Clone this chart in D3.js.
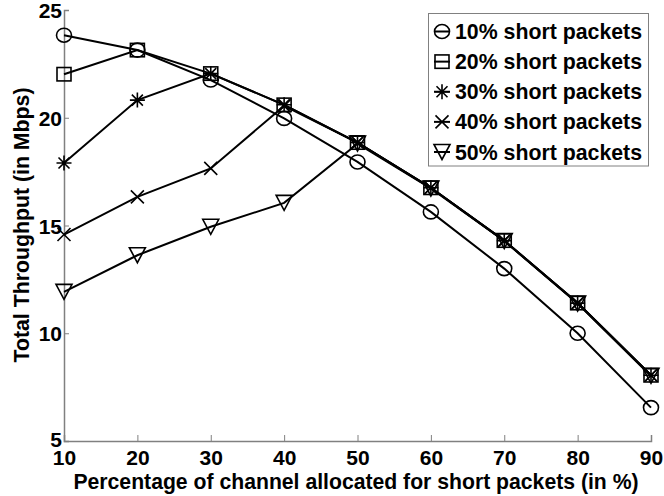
<!DOCTYPE html>
<html>
<head>
<meta charset="utf-8">
<script src="https://cdn.jsdelivr.net/npm/d3@7"></script>
<style>
  html, body { margin: 0; padding: 0; background: #fff; }
  svg { display: block; }
  text { font-family: "Liberation Sans", Arial, Helvetica, sans-serif; font-weight: bold; fill: #000; }
</style>
</head>
<body>
<svg id="chart" width="664" height="496"></svg>
<script>
const xValues = [10, 20, 30, 40, 50, 60, 70, 80, 90];
const xTicks = [10, 20, 30, 40, 50, 60, 70, 80, 90];
const yTicks = [5, 10, 15, 20, 25];

const seriesNames = ["10% short packets", "20% short packets", "30% short packets", "40% short packets", "50% short packets"];
const markerTypes = ["circle", "square", "asterisk", "cross", "triangleDown"];

const s10 = [23.83, 23.14, 21.75, 19.97, 17.95, 15.63, 13.0, 10.0, 6.55];
const s20 = [22.02, 23.14, 22.05, 20.6, 18.85, 16.75, 14.3, 11.4, 8.05];
const s30 = [17.9, 20.82, 22.05, 20.6, 18.85, 16.75, 14.3, 11.4, 8.05];
const s40 = [14.58, 16.33, 17.65, 20.55, 18.85, 16.75, 14.3, 11.4, 8.05];
const s50 = [11.92, 13.62, 14.94, 16.05, 18.8, 16.72, 14.28, 11.38, 8.02];
const seriesValues = [s10, s20, s30, s40, s50];

const svg = d3.select("#chart");
const plotL = 64, plotR = 651, plotT = 10, plotB = 441;

const x = d3.scaleLinear().domain([10, 90]).range([plotL, plotR]);
const y = d3.scaleLinear().domain([5, 25]).range([plotB, plotT]);

const axisColor = "#808080";
const tickFont = "21px";

// Axes
const xAxis = d3.axisBottom(x).tickValues(xTicks).tickSize(-6).tickPadding(9).tickFormat(d3.format("d"));
const yAxis = d3.axisLeft(y).tickValues(yTicks).tickSize(-5).tickPadding(2).tickFormat(d3.format("d"));

const gx = svg.append("g").attr("transform", `translate(0,${plotB})`).call(xAxis);
gx.select(".domain").attr("stroke", axisColor).attr("stroke-width", 1.5);
gx.selectAll(".tick line").attr("stroke", axisColor);
gx.selectAll(".tick text").style("font-size", tickFont).style("font-family", "Liberation Sans, Arial, sans-serif").style("font-weight", "bold").attr("fill", "#000");

const gy = svg.append("g").attr("transform", `translate(${plotL},0)`).call(yAxis);
gy.select(".domain").attr("stroke", axisColor).attr("stroke-width", 1.5);
gy.selectAll(".tick line").attr("stroke", axisColor);
gy.selectAll(".tick text").style("font-size", tickFont).style("font-family", "Liberation Sans, Arial, sans-serif").style("font-weight", "bold").attr("fill", "#000")
  .attr("dy", d => d === 5 ? "0.26em" : "0.36em");

// Axis titles
svg.append("text")
  .attr("x", 356)
  .attr("y", 489)
  .attr("text-anchor", "middle")
  .style("font-size", "21.2px")
  .text("Percentage of channel allocated for short packets (in %)");

svg.append("text")
  .attr("transform", `translate(29,${225}) rotate(-90)`)
  .attr("text-anchor", "middle")
  .attr("textLength", 275)
  .attr("lengthAdjust", "spacingAndGlyphs")
  .style("font-size", "22px")
  .text("Total Throughput (in Mbps)");

// Marker drawing
function drawMarker(g, type, cx, cy) {
  const st = { stroke: "#000", "stroke-width": 1.6, fill: "none" };
  const apply = sel => { for (const k in st) sel.attr(k, st[k]); return sel; };
  if (type === "circle") {
    apply(g.append("ellipse").attr("cx", cx).attr("cy", cy).attr("rx", 7.5).attr("ry", 7));
  } else if (type === "square") {
    apply(g.append("rect").attr("x", cx - 7).attr("y", cy - 6.7).attr("width", 14).attr("height", 13.4));
  } else if (type === "asterisk") {
    const r = 7.5, d = 5.5;
    apply(g.append("path").attr("d",
      `M${cx},${cy - r}L${cx},${cy + r}M${cx - r},${cy}L${cx + r},${cy}` +
      `M${cx - d},${cy - d}L${cx + d},${cy + d}M${cx - d},${cy + d}L${cx + d},${cy - d}`));
  } else if (type === "cross") {
    const d = 6.5;
    apply(g.append("path").attr("d",
      `M${cx - d},${cy - d}L${cx + d},${cy + d}M${cx - d},${cy + d}L${cx + d},${cy - d}`));
  } else if (type === "triangleDown") {
    const w = 8, h = 7.5;
    apply(g.append("path").attr("d",
      `M${cx - w},${cy - h}L${cx + w},${cy - h}L${cx},${cy + h}Z`));
  }
}

const line = d3.line().x((d, i) => x(xValues[i])).y(d => y(d));

seriesValues.forEach((vals, si) => {
  const g = svg.append("g");
  g.append("path").datum(vals).attr("d", line)
    .attr("fill", "none").attr("stroke", "#000").attr("stroke-width", 2);
  vals.forEach((v, i) => drawMarker(g, markerTypes[si], x(xValues[i]), y(v)));
});

// Legend
const lg = svg.append("g");
lg.append("rect").attr("x", 428.5).attr("y", 13.5).attr("width", 220).attr("height", 152.5)
  .attr("fill", "#fff").attr("stroke", axisColor).attr("stroke-width", 1);
const rowY = d3.scaleLinear().domain([0, 4]).range([31.5, 152]);
seriesNames.forEach((name, i) => {
  const cy = rowY(i);
  lg.append("line").attr("x1", 434).attr("x2", 450).attr("y1", cy).attr("y2", cy)
    .attr("stroke", "#000").attr("stroke-width", 2);
  drawMarker(lg, markerTypes[i], 442, cy);
  lg.append("text").attr("x", 455).attr("y", cy + 7.5).style("font-size", "21.3px").text(name);
});
</script>
</body>
</html>
